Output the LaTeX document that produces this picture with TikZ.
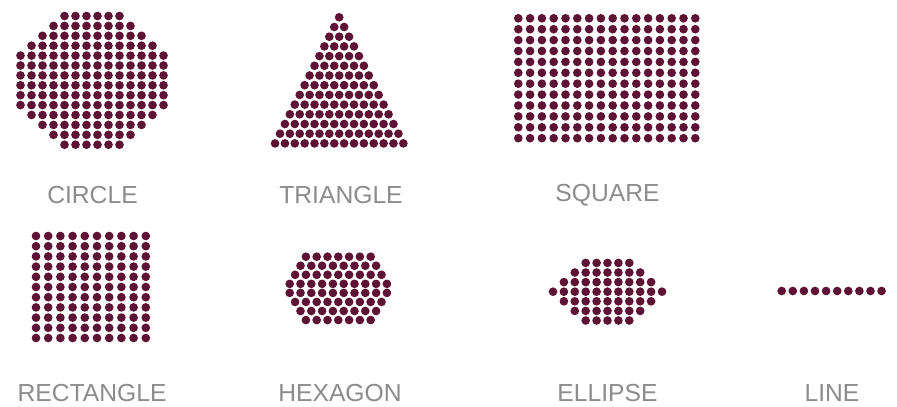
\documentclass[tikz,border=0pt]{standalone}
\usepackage{fontspec}
\setmainfont{Liberation Sans}
\definecolor{dotc}{HTML}{5E1234}
\definecolor{labc}{HTML}{8C8C8C}
\begin{document}
\begin{tikzpicture}[x=0.75pt,y=-0.75pt,
  dotfill/.style={fill=dotc},
  lab/.style={text=labc, font=\fontsize{18.5}{20}\selectfont, inner sep=0pt, anchor=base}]
\fill[white] (0,0) rectangle (897,407);
\useasboundingbox (0,0) rectangle (897,407);
\def\dr{3.25pt}
% circle
\foreach \n [count=\i from 0] in {6,8,10,12,14,14,14,14,14,14,12,10,8,6} {
  \foreach \k in {1,...,\n} {
    \fill[dotfill] ({92+11*(\k-(\n+1)/2)}, {16+9.9*\i}) circle[radius=\dr];
  }
}
% triangle
\foreach \i in {0,...,13} {
  \foreach \k in {0,...,\i} {
    \fill[dotfill] ({339.2+9.87*(\k-\i/2)}, {17.3+9.7*\i}) circle[radius=\dr];
  }
}
% square
\foreach \c in {0,...,15} {
  \foreach \r in {0,...,11} {
    \fill[dotfill] ({518.3+11.8*\c}, {18.3+10.9*\r}) circle[radius=\dr];
  }
}
% rectangle
\foreach \c in {0,...,9} {
  \foreach \r in {0,...,10} {
    \fill[dotfill] ({36+12.2*\c}, {236+10.2*\r}) circle[radius=\dr];
  }
}
% hexagon
\foreach \n [count=\i from 0] in {7,8,9,10,10,9,8,7} {
  \foreach \k in {1,...,\n} {
    \fill[dotfill] ({338.3+10.8*(\k-(\n+1)/2)}, {256.7+9.05*\i}) circle[radius=\dr];
  }
}
% ellipse
\foreach \n [count=\i from 0] in {5,7,9,11,9,7,5} {
  \foreach \k in {1,...,\n} {
    \fill[dotfill] ({607.5+10.9*(\k-(\n+1)/2)}, {262.9+9.6*\i}) circle[radius=\dr];
  }
}
% line
\foreach \k in {0,...,9} {
  \fill[dotfill] ({781.7+11.1*\k}, 291) circle[radius=\dr];
}
% labels
\node[lab] (lcircle) at (92.5,203) {CIRCLE};
\node[lab] (ltriangle) at (341,203) {TRIANGLE};
\node[lab] (lsquare) at (607.5,201.7) {SQUARE};
\node[lab] (lrect) at (92,401) {RECTANGLE};
\node[lab] (lhex) at (340,401) {HEXAGON};
\node[lab] (lell) at (607.5,401) {ELLIPSE};
\node[lab] (lline) at (832,401) {LINE};
\end{tikzpicture}
\end{document}
